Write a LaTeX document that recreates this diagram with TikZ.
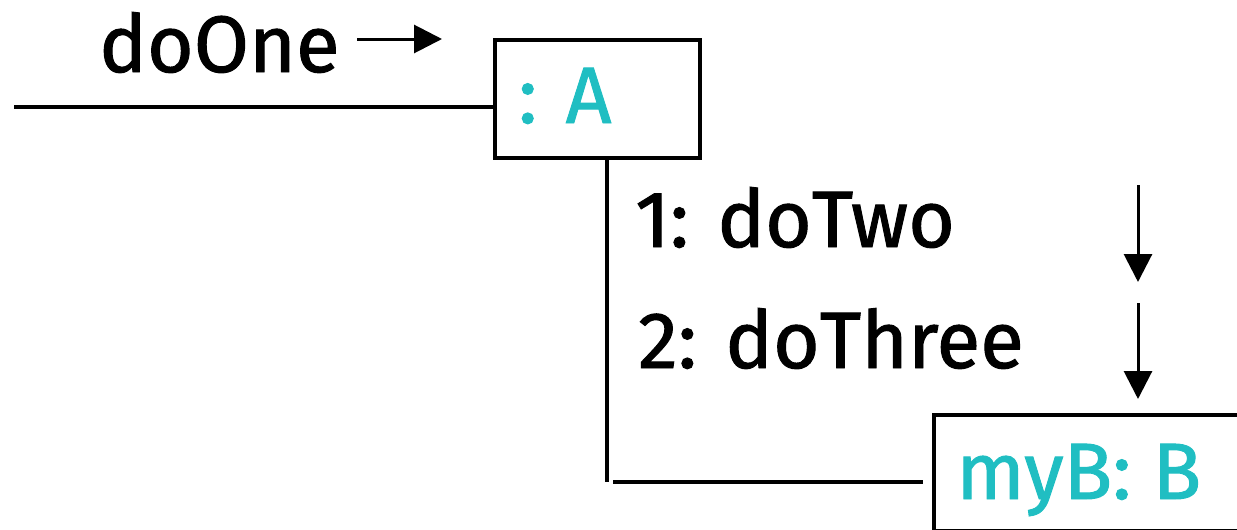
\documentclass[tikz,border=0pt]{standalone}
\usepackage{fontspec}
\setmainfont{Fira Sans}
\newfontfamily\lblfont{Fira Sans}[FakeBold=1.2]
\usetikzlibrary{arrows.meta}
\definecolor{objteal}{RGB}{32,190,194}
\begin{document}
\begin{tikzpicture}[x=1pt,y=-1pt,
  objbox/.style={draw, line width=4pt, inner sep=0, anchor=north west},
  conn/.style={line width=3.5pt},
  lbl/.style={font=\fontsize{80}{90}\lblfont, anchor=base west, inner sep=0},
  objlbl/.style={lbl, text=objteal},
  msg/.style={line width=3pt, -{Triangle[length=28pt,width=28pt]}}]
\useasboundingbox (0,0) rectangle (1237,530);
% boxes
\node[objbox, minimum width=205pt, minimum height=118pt] (A) at (493,38) {};
\node[objbox, minimum width=320pt, minimum height=116pt] (B) at (932,413) {};
\node[objlbl] (Alabel) at (518,123) {: A};
\node[objlbl] (Blabel) at (956,499) {myB: B};
% connectors
\coordinate (s) at (14,107);
\draw[conn] (s) -- (s -| A.west);
\coordinate (c1) at (607,482);
\draw[conn] (A.south -| c1) -- (c1);
\coordinate (c2) at (613,482);
\draw[conn, shorten >=9pt] (c2) -- (c2 -| B.west);
% messages
\node[lbl] (m0) at (99,72) {doOne};
\node[lbl] (m1) at (635,247) {1: doTwo};
\node[lbl] (m2) at (638,368) {2: doThree};
\coordinate (a0s) at (357,39);
\coordinate (a0e) at (442,39);
\draw[msg] (a0s) -- (a0e);
\coordinate (a1s) at (1138,185);
\coordinate (a1e) at (1138,282);
\draw[msg] (a1s) -- (a1e);
\coordinate (a2s) at (1138,303);
\coordinate (a2e) at (1138,399);
\draw[msg] (a2s) -- (a2e);
\end{tikzpicture}
\end{document}
